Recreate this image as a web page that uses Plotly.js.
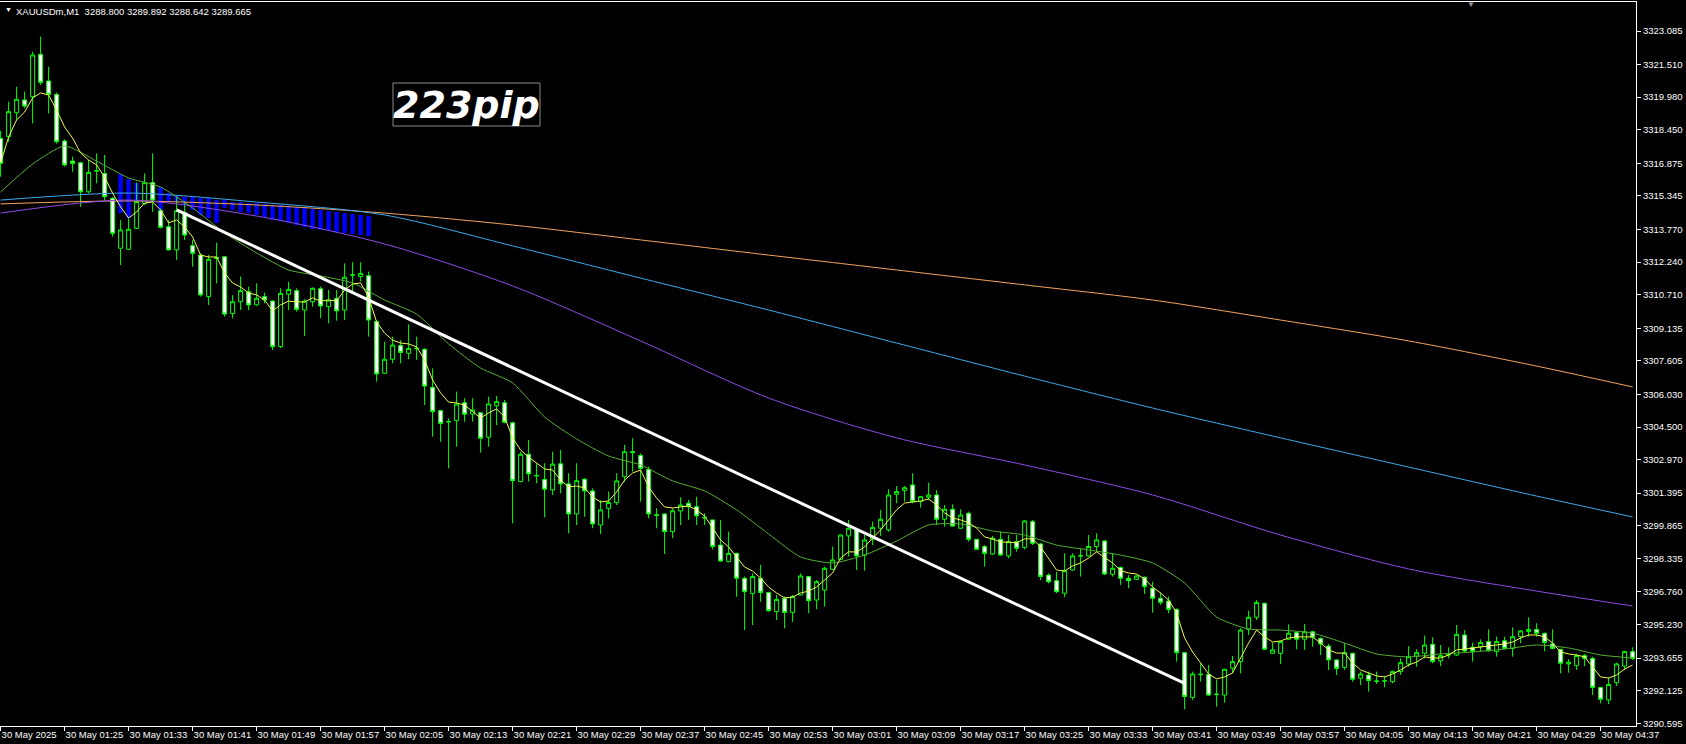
<!DOCTYPE html>
<html>
<head>
<meta charset="utf-8">
<script src="https://cdn.plot.ly/plotly-3.0.1.min.js"></script>
<style>html,body{margin:0;padding:0;background:#000;}#chart{width:1686px;height:744px;}</style>
</head>
<body>
<div id="chart"></div>
<script>
// ---------- data ----------
const symbolHeader = "XAUUSDm,M1\u00a0\u00a03288.800 3289.892 3288.642 3289.665";
const pipLabel = "223pip";

const timeLabels = ["30 May 2025","30 May 01:25","30 May 01:33","30 May 01:41","30 May 01:49","30 May 01:57",
  "30 May 02:05","30 May 02:13","30 May 02:21","30 May 02:29","30 May 02:37","30 May 02:45","30 May 02:53",
  "30 May 03:01","30 May 03:09","30 May 03:17","30 May 03:25","30 May 03:33","30 May 03:41","30 May 03:49",
  "30 May 03:57","30 May 04:05","30 May 04:13","30 May 04:21","30 May 04:29","30 May 04:37"];
const timeLabelBars = [0,8,16,24,32,40,48,56,64,72,80,88,96,104,112,120,128,136,144,152,160,168,176,184,192,200];

const priceTicks = [3323.085,3321.510,3319.980,3318.450,3316.875,3315.345,3313.770,3312.240,3310.710,3309.135,
  3307.605,3306.030,3304.500,3302.970,3301.395,3299.865,3298.335,3296.760,3295.230,3293.655,3292.125,3290.595];
const priceTickText = ["3323.085","3321.510","3319.980","3318.450","3316.875","3315.345","3313.770","3312.240",
  "3310.710","3309.135","3307.605","3306.030","3304.500","3302.970","3301.395","3299.865","3298.335","3296.760",
  "3295.230","3293.655","3292.125","3290.595"];

const openP = [3318.05,3318.13,3319.25,3319.85,3320.00,3321.99,3320.74,3320.11,3317.92,3316.98,
3316.90,3315.54,3316.51,3316.40,3315.23,3312.89,3312.84,3313.82,3314.99,3315.97,
3314.65,3313.90,3312.81,3314.56,3313.01,3312.57,3310.62,3312.46,3312.49,3309.83,
3310.38,3310.85,3310.23,3310.62,3310.41,3308.27,3310.73,3310.90,3309.99,3310.38,
3310.99,3310.15,3310.54,3309.99,3311.63,3311.56,3311.60,3309.45,3307.02,3307.68,
3308.32,3307.96,3308.20,3308.15,3306.36,3305.27,3304.76,3304.80,3305.64,3305.11,
3305.17,3304.02,3305.50,3305.64,3304.70,3301.94,3303.22,3302.23,3302.04,3301.55,
3302.77,3301.83,3300.42,3302.05,3301.50,3299.90,3300.68,3300.95,3302.17,3303.34,
3303.16,3302.51,3300.38,3300.42,3299.59,3300.56,3300.92,3300.76,3300.26,3300.14,
3298.96,3298.18,3298.57,3297.40,3296.69,3297.40,3296.73,3295.84,3296.46,3295.80,
3296.62,3297.48,3296.38,3296.85,3297.82,3298.29,3299.39,3299.70,3298.49,3299.23,
3299.75,3299.67,3301.34,3301.51,3301.78,3301.00,3301.20,3301.31,3300.17,3300.64,
3299.75,3300.45,3299.23,3298.89,3298.54,3299.23,3298.45,3299.12,3298.85,3300.06,
3299.01,3297.55,3297.29,3296.70,3297.79,3298.44,3298.45,3298.89,3299.15,3297.59,
3297.91,3297.40,3297.35,3297.45,3296.93,3296.46,3296.33,3295.94,3293.91,3291.81,
3292.88,3292.89,3291.94,3291.92,3293.18,3293.49,3295.01,3295.57,3296.23,3293.88,
3293.88,3294.54,3294.85,3294.54,3294.89,3294.58,3294.22,3293.57,3293.22,3293.88,
3292.71,3292.86,3292.58,3292.58,3292.55,3293.02,3293.38,3293.75,3293.88,3294.30,
3293.53,3293.80,3293.80,3294.74,3294.16,3294.19,3294.43,3293.96,3294.47,3294.11,
3294.66,3294.90,3295.00,3294.82,3294.32,3294.07,3293.38,3293.30,3293.77,3293.64,
3292.28,3291.69,3292.50,3293.28,3293.96];

const highP = [3318.40,3319.77,3320.47,3320.24,3322.11,3322.82,3321.41,3320.20,3318.00,3317.19,
3316.95,3317.03,3317.34,3317.27,3315.30,3314.21,3314.29,3315.97,3316.40,3317.34,
3314.76,3314.21,3315.31,3315.08,3313.28,3312.65,3312.57,3313.15,3312.50,3310.69,
3311.56,3311.09,3311.24,3310.81,3310.46,3311.01,3311.32,3311.01,3310.49,3311.05,
3311.09,3310.93,3310.93,3312.18,3312.23,3312.23,3311.79,3309.52,3308.50,3308.74,
3308.58,3309.32,3308.74,3308.19,3307.25,3305.30,3304.91,3306.16,3305.85,3305.85,
3305.20,3305.92,3305.96,3305.77,3304.75,3303.34,3303.89,3302.80,3302.80,3303.34,
3303.42,3302.33,3302.80,3302.10,3301.62,3301.07,3301.47,3302.33,3303.66,3303.97,
3303.26,3302.64,3300.69,3300.45,3300.68,3301.20,3301.08,3301.23,3300.45,3300.15,
3300.14,3299.59,3298.60,3297.48,3297.63,3298.03,3296.77,3296.62,3296.54,3296.62,
3297.63,3297.51,3297.32,3297.95,3298.89,3299.45,3300.14,3299.75,3299.43,3300.06,
3300.61,3301.58,3301.73,3301.73,3302.33,3301.25,3301.89,3301.54,3300.84,3300.87,
3300.64,3300.53,3299.25,3298.96,3299.39,3299.59,3299.43,3299.43,3300.14,3300.14,
3299.07,3297.63,3297.71,3298.57,3298.57,3298.81,3299.43,3299.51,3299.20,3298.57,
3297.95,3297.55,3297.55,3297.48,3297.24,3296.73,3296.54,3295.99,3293.92,3293.02,
3293.41,3293.33,3292.63,3293.15,3293.75,3295.05,3295.88,3296.38,3296.25,3294.38,
3294.47,3295.24,3294.89,3295.26,3294.93,3294.63,3294.32,3293.60,3294.35,3293.91,
3293.02,3293.02,3293.02,3292.81,3293.07,3293.64,3294.22,3294.07,3294.71,3294.63,
3294.27,3294.16,3295.21,3294.97,3294.38,3294.53,3295.00,3294.66,3294.66,3295.10,
3294.97,3295.57,3295.29,3294.85,3295.00,3294.08,3293.60,3293.85,3293.85,3293.72,
3292.29,3292.75,3293.44,3294.00,3294.16];

const lowP = [3316.25,3317.89,3318.91,3319.46,3318.75,3320.55,3319.22,3317.80,3316.72,3316.48,
3314.84,3315.47,3315.94,3315.15,3313.43,3312.10,3312.80,3313.80,3314.92,3314.60,
3313.82,3312.80,3312.34,3313.28,3312.02,3310.62,3310.23,3311.24,3309.68,3309.60,
3309.99,3309.99,3310.18,3310.30,3308.11,3308.20,3309.99,3309.91,3308.77,3310.15,
3309.60,3309.37,3309.49,3309.52,3310.77,3311.32,3308.74,3306.63,3307.00,3307.49,
3307.49,3307.68,3307.65,3305.53,3304.05,3303.81,3302.56,3303.58,3304.75,3304.75,
3303.30,3303.58,3304.59,3304.67,3299.98,3301.90,3301.94,3301.86,3300.26,3301.31,
3301.39,3299.51,3299.90,3300.29,3299.75,3299.48,3300.21,3300.84,3301.93,3302.41,
3301.00,3300.22,3299.75,3298.54,3299.28,3299.90,3300.14,3299.90,3299.90,3298.76,
3298.18,3298.15,3296.54,3294.97,3295.21,3296.30,3295.83,3295.44,3295.05,3295.36,
3296.60,3295.76,3295.95,3296.07,3297.80,3298.25,3298.42,3297.79,3297.76,3298.96,
3299.39,3299.59,3300.92,3301.00,3300.92,3300.72,3301.08,3299.90,3299.82,3299.82,
3299.72,3299.12,3298.73,3297.95,3298.50,3298.46,3298.34,3298.65,3298.76,3298.96,
3297.32,3297.16,3296.70,3296.51,3297.76,3297.48,3298.42,3298.65,3297.55,3297.48,
3297.09,3296.93,3297.32,3296.66,3295.79,3296.15,3295.76,3293.49,3291.25,3291.69,
3292.55,3291.89,3291.38,3291.56,3292.94,3292.94,3294.74,3295.44,3294.04,3293.85,
3293.38,3294.50,3294.07,3294.04,3294.19,3293.80,3293.10,3292.86,3293.10,3292.55,
3292.39,3292.08,3292.44,3292.28,3292.47,3292.86,3293.25,3293.25,3293.64,3293.41,
3293.28,3293.64,3293.75,3293.91,3293.49,3293.96,3293.96,3293.72,3294.07,3293.72,
3294.35,3294.66,3294.66,3293.97,3294.07,3292.94,3292.97,3293.10,3293.28,3291.92,
3291.53,3291.50,3292.35,3293.10,3293.57];

const closeP = [3316.87,3319.30,3319.88,3319.56,3321.96,3320.67,3320.11,3317.89,3316.80,3316.87,
3315.54,3316.45,3316.53,3315.31,3313.59,3313.75,3313.78,3315.08,3315.97,3315.15,
3313.87,3312.81,3314.65,3313.51,3312.65,3310.70,3312.37,3312.42,3309.80,3310.38,
3310.90,3310.23,3310.54,3310.46,3308.27,3310.77,3310.96,3310.02,3310.41,3311.01,
3310.18,3310.46,3309.95,3311.53,3311.64,3311.71,3309.52,3306.99,3307.68,3308.35,
3308.00,3308.19,3308.18,3306.42,3305.22,3304.67,3304.74,3305.58,3305.10,3305.30,
3303.97,3305.58,3305.69,3304.72,3301.98,3303.22,3302.30,3302.21,3301.58,3302.76,
3301.83,3300.42,3301.98,3301.50,3299.95,3300.61,3300.96,3301.97,3303.34,3303.30,
3302.56,3300.42,3300.36,3299.59,3300.57,3300.84,3300.76,3300.33,3300.24,3298.89,
3298.21,3298.57,3297.40,3296.77,3297.48,3296.73,3295.88,3296.41,3295.80,3296.54,
3297.51,3296.35,3297.24,3297.87,3298.26,3299.43,3299.75,3298.45,3299.20,3299.79,
3300.17,3301.31,3301.47,3301.65,3301.00,3301.23,3301.31,3300.17,3300.64,3299.85,
3300.37,3299.23,3298.76,3298.57,3299.28,3298.49,3299.12,3298.81,3300.09,3299.04,
3297.48,3297.24,3296.77,3297.76,3298.45,3298.46,3298.89,3299.20,3297.60,3297.87,
3297.40,3297.29,3297.51,3297.01,3296.46,3296.27,3295.94,3293.91,3291.85,3292.91,
3292.90,3291.92,3291.96,3293.13,3293.49,3294.97,3295.57,3296.26,3294.07,3294.04,
3294.43,3294.82,3294.54,3294.89,3294.63,3294.32,3293.57,3293.17,3293.91,3292.66,
3292.91,3292.60,3292.57,3292.59,3293.02,3293.44,3293.72,3293.91,3294.27,3293.49,
3293.77,3293.82,3294.77,3293.99,3293.96,3294.39,3294.00,3294.43,3294.11,3294.66,
3294.93,3295.00,3294.82,3294.38,3294.11,3293.41,3293.46,3293.77,3293.64,3292.28,
3291.72,3292.42,3293.38,3293.96,3293.64];

// fast MA (yellow), one value per bar
const fastMA = [3316.89,3318.11,3318.91,3319.28,3319.94,3320.18,3320.08,3319.38,3318.58,3318.06,
3317.36,3317.03,3316.80,3316.23,3315.48,3314.83,3314.31,3314.59,3315.01,3315.06,
3314.69,3314.08,3314.22,3313.89,3313.42,3312.57,3312.48,3312.48,3311.73,3311.26,
3311.07,3310.79,3310.70,3310.46,3309.95,3310.23,3310.41,3310.37,3310.37,3310.56,
3310.41,3310.46,3310.41,3310.93,3311.21,3311.26,3310.60,3309.43,3308.91,3308.58,
3308.44,3308.40,3308.26,3307.65,3306.71,3306.10,3305.67,3305.63,3305.53,3305.21,
3304.92,3305.16,3305.35,3304.97,3303.99,3303.42,3303.09,3302.81,3302.53,3302.48,
3302.01,3301.69,3301.73,3301.64,3301.22,3300.98,3301.03,3301.45,3302.01,3302.34,
3302.48,3301.69,3301.17,3300.75,3300.70,3300.75,3300.79,3300.61,3300.32,3299.76,
3299.20,3298.87,3298.40,3297.93,3297.74,3297.41,3296.99,3296.71,3296.48,3296.52,
3296.71,3296.80,3296.99,3297.32,3297.65,3298.35,3298.64,3298.64,3298.87,3299.29,
3299.67,3300.14,3300.61,3300.93,3300.98,3301.03,3301.12,3300.84,3300.47,3300.23,
3300.14,3300.00,3299.76,3299.34,3299.25,3299.10,3299.10,3299.06,3299.25,3299.25,
3298.87,3298.35,3297.79,3297.74,3297.98,3298.12,3298.35,3298.64,3298.40,3298.12,
3297.76,3297.65,3297.60,3297.37,3296.99,3296.71,3296.38,3295.77,3294.60,3293.94,
3293.43,3292.91,3292.68,3292.77,3292.96,3293.66,3294.36,3294.97,3294.65,3294.41,
3294.46,3294.60,3294.65,3294.65,3294.65,3294.36,3294.04,3293.89,3293.89,3293.43,
3293.10,3292.96,3292.82,3292.77,3292.91,3293.10,3293.33,3293.47,3293.71,3293.66,
3293.66,3293.80,3294.04,3294.08,3294.13,3294.18,3294.22,3294.27,3294.32,3294.41,
3294.60,3294.74,3294.74,3294.65,3294.36,3293.94,3293.85,3293.80,3293.71,3293.24,
3292.77,3292.72,3292.86,3293.14,3293.33];

// medium MA (green), read every 4 bars
const midMABars = [0,4,8,12,16,20,24,28,32,36,40,44,48,52,56,60,64,68,72,76,80,84,88,92,96,100,104,108,112,116,
  120,124,128,132,136,140,144,148,152,156,160,164,168,172,176,180,184,188,192,196,200,204];
const midMA = [3315.53,3316.84,3317.69,3316.98,3316.19,3315.76,3314.78,3313.61,3312.67,3311.87,
3311.59,3311.26,3310.46,3309.80,3308.40,3307.27,3306.57,3304.97,3303.94,3303.14,
3302.72,3301.97,3301.50,3300.61,3299.48,3298.40,3298.12,3298.49,3299.15,3299.90,
3299.95,3299.62,3299.43,3298.96,3298.73,3298.49,3298.12,3297.18,3295.58,3295.02,
3294.97,3294.83,3294.36,3293.85,3293.71,3293.85,3293.94,3294.08,3294.27,3294.13,
3293.80,3293.66];

// slow MAs, read every 16 bars
const slowMABars = [0,16,32,48,64,80,96,112,128,144,160,176,192,204];
const maOrange = [3314.97,3315.11,3314.92,3314.54,3313.98,3313.28,3312.57,3311.87,3311.17,3310.46,3309.52,3308.54,3307.36,3306.38];
const maBlue   = [3315.15,3315.48,3315.06,3314.45,3313.00,3311.49,3309.99,3308.44,3306.89,3305.39,3303.99,3302.62,3301.26,3300.28];
const maPurple = [3314.54,3315.15,3314.40,3313.09,3311.12,3308.54,3305.86,3303.99,3302.72,3301.31,3299.43,3297.84,3296.80,3296.10];

// histogram bars between averages
const histBars = [15,16,17,18,19,20,21,22,23,24,25,26,27,28,29,30,31,32,33,34,35,36,37,38,39,40,41,42,43,44,45,46];
const histTop = [3316.37,3316.14,3315.95,3315.48,3315.86,3315.76,3315.48,3315.39,3315.30,3315.30,3315.25,3315.25,
  3315.15,3315.15,3315.06,3315.06,3315.01,3315.01,3314.97,3314.92,3314.92,3314.87,3314.83,3314.78,3314.73,3314.69,
  3314.64,3314.59,3314.54,3314.50,3314.45,3314.40];
const histBottom = [3314.54,3314.31,3315.06,3315.01,3315.15,3314.59,3315.06,3315.06,3314.92,3314.69,3314.45,3314.31,
  3314.08,3314.78,3314.69,3314.59,3314.54,3314.45,3314.36,3314.22,3314.17,3314.08,3313.98,3313.89,3313.79,3313.75,
  3313.70,3313.65,3313.61,3313.56,3313.51,3313.46];
const histUpBars = [18];

// trend line
const trendBars = [22, 148];
const trendPrices = [3314.69, 3292.47];

// ---------- build ----------
const barIdx = openP.map((_, i) => i);
const histLen = histTop.map((t, i) => t - histBottom[i]);
const histColors = histBars.map(b => histUpBars.includes(b) ? '#ff0000' : '#0000ff');

const traces = [
  {type:'bar', x:histBars, y:histLen, base:histBottom, width:0.55,
   marker:{color:histColors, line:{width:0}}, hoverinfo:'skip'},
  {type:'candlestick', x:barIdx, open:openP, high:highP, low:lowP, close:closeP,
   increasing:{line:{color:'#00ff00', width:1}, fillcolor:'#000000'},
   decreasing:{line:{color:'#00ff00', width:1}, fillcolor:'#ffffff'},
   whiskerwidth:0, hoverinfo:'skip'},
  {type:'scatter', mode:'lines', x:slowMABars, y:maOrange, line:{color:'#f4a460', width:1, shape:'spline', smoothing:0.8}, hoverinfo:'skip'},
  {type:'scatter', mode:'lines', x:slowMABars, y:maBlue, line:{color:'#3fa9ec', width:1, shape:'spline', smoothing:0.8}, hoverinfo:'skip'},
  {type:'scatter', mode:'lines', x:slowMABars, y:maPurple, line:{color:'#8e4be6', width:1, shape:'spline', smoothing:0.8}, hoverinfo:'skip'},
  {type:'scatter', mode:'lines', x:midMABars, y:midMA, line:{color:'#55b032', width:1, shape:'spline', smoothing:0.6}, hoverinfo:'skip'},
  {type:'scatter', mode:'lines', x:barIdx, y:fastMA, line:{color:'#f5f550', width:1}, hoverinfo:'skip'},
  {type:'scatter', mode:'lines', x:trendBars, y:trendPrices, line:{color:'#ffffff', width:3}, hoverinfo:'skip'}
];

const PW = 1636, PH = 724, PT = 2;
const layout = {
  width:1686, height:744,
  margin:{l:0, r:50, t:2, b:18, pad:0},
  paper_bgcolor:'#000000', plot_bgcolor:'#000000',
  showlegend:false,
  boxgap:0.5, boxgroupgap:0,
  font:{family:'Liberation Sans, Arial, sans-serif', color:'#ffffff', size:9.5},
  xaxis:{
    range:[-0.075, 204.425], fixedrange:true,
    tickmode:'array', tickvals:timeLabelBars, ticktext:timeLabels,
    ticks:'outside', ticklen:4, tickcolor:'#ffffff', tickwidth:1,
    tickangle:0,
    ticklabelposition:'outside right',
    tickfont:{family:'Liberation Sans, Arial, sans-serif', size:9.5, color:'#ffffff'},
    showline:true, linecolor:'#ffffff', linewidth:1, mirror:true,
    showgrid:false, zeroline:false,
    rangeslider:{visible:false}
  },
  yaxis:{
    side:'right', range:[3290.468, 3324.446], fixedrange:true,
    tickmode:'array', tickvals:priceTicks, ticktext:priceTickText,
    ticks:'outside', ticklen:4, tickcolor:'#ffffff', tickwidth:1,
    tickfont:{family:'Liberation Sans, Arial, sans-serif', size:9.5, color:'#ffffff'},
    showline:true, linecolor:'#ffffff', linewidth:1,
    showgrid:false, zeroline:false
  },
  shapes:[
    {type:'rect', xref:'paper', yref:'paper', x0:393/PW, x1:540/PW, y0:1-(126-PT)/PH, y1:1-(83-PT)/PH,
     line:{color:'#8a8a8a', width:1}, fillcolor:'rgba(0,0,0,0)'}
  ],
  annotations:[
    {xref:'paper', yref:'paper', x:3/PW, y:1-(10-PT)/PH, xanchor:'left', yanchor:'middle', showarrow:false,
     text:'\u25BC', font:{size:7, color:'#ffffff'}},
    {xref:'paper', yref:'paper', x:14/PW, y:1-(11-PT)/PH, xanchor:'left', yanchor:'middle', showarrow:false,
     text:symbolHeader, font:{family:'Liberation Sans, Arial, sans-serif', size:9.5, color:'#ffffff'}},
    {xref:'paper', yref:'paper', x:1471/PW, y:1-(4-PT)/PH, xanchor:'center', yanchor:'middle', showarrow:false,
     text:'\u25BC', font:{size:8, color:'#9a9a9a'}},
    {xref:'paper', yref:'paper', x:466.5/PW, y:1-(105-PT)/PH, xanchor:'center', yanchor:'middle', showarrow:false,
     text:pipLabel, font:{family:'DejaVu Sans, sans-serif', size:38, color:'#ffffff', weight:'bold', style:'italic'}}
  ]
};

Plotly.newPlot('chart', traces, layout, {displayModeBar:false, staticPlot:true});
</script>
</body>
</html>
